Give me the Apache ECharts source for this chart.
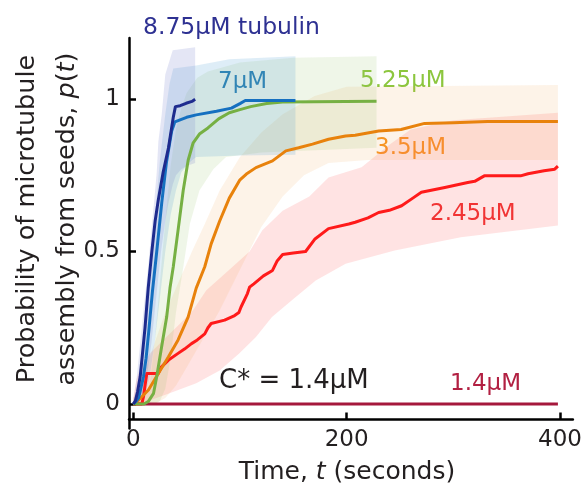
<!DOCTYPE html>
<html>
<head>
<meta charset="utf-8">
<script src="https://cdn.jsdelivr.net/npm/echarts@6/dist/echarts.min.js"></script>
<style>
  html, body { margin: 0; padding: 0; background: #fff; }
  #chart { width: 585px; height: 491px; }
</style>
</head>
<body>
<div id="chart"></div>
<script>
// Probability of microtubule assembly from seeds vs. time, per tubulin concentration.

// Tick values
const xTicks = [0, 200, 400];
const yTicks = [0, 0.5, 1];

// 8.75 µM
const t875 = [0, 2, 4, 6.5, 8.5, 11, 14, 17.4, 20.5, 23.5, 28, 33, 37.5, 39.5, 44, 49.5, 55, 58];
const p875 = [0, 0.01, 0.04, 0.09, 0.16, 0.25, 0.38, 0.5, 0.6, 0.67, 0.76, 0.84, 0.94, 0.975, 0.978, 0.986, 0.992, 0.999];
const band875HiT = [0, 3, 6, 10, 14, 17, 20, 22, 23.5, 26.7, 30, 37, 58];
const band875Hi  = [0.01, 0.08, 0.18, 0.32, 0.45, 0.57, 0.68, 0.76, 0.86, 0.95, 1.08, 1.16, 1.17];
const band875LoT = [0, 3, 6, 10, 14, 17, 20, 23, 26, 30, 33, 37, 40, 45, 50, 58];
const band875Lo  = [0, 0, 0.01, 0.05, 0.12, 0.2, 0.3, 0.4, 0.5, 0.6, 0.66, 0.72, 0.75, 0.77, 0.78, 0.79];

// 7 µM
const t7 = [0, 3, 5, 7, 9.6, 12, 14.3, 18, 22, 26.7, 31, 36, 39, 50, 59, 78, 92, 100, 105, 152];
const p7 = [0, 0.01, 0.02, 0.05, 0.09, 0.15, 0.23, 0.37, 0.5, 0.66, 0.79, 0.895, 0.925, 0.94, 0.948, 0.96, 0.97, 0.985, 0.995, 0.995];
const band7HiT = [0, 5, 10, 15, 20, 25, 30, 34, 37.5, 59, 90, 152];
const band7Hi  = [0.01, 0.06, 0.2, 0.4, 0.6, 0.8, 0.95, 1.05, 1.1, 1.11, 1.13, 1.14];
const band7LoT = [0, 10, 15, 20, 25, 30, 35, 40, 45, 52, 59, 100, 152];
const band7Lo  = [0, 0.02, 0.08, 0.2, 0.35, 0.5, 0.62, 0.7, 0.76, 0.79, 0.81, 0.815, 0.817];

// 5.25 µM
const t525 = [0, 10, 14, 19, 22, 26.7, 31.3, 34.4, 37.5, 42, 46.8, 51.5, 56, 62, 70, 80, 90, 100, 110, 125, 140, 228];
const p525 = [0, 0, 0.008, 0.035, 0.09, 0.19, 0.285, 0.38, 0.45, 0.57, 0.7, 0.8, 0.855, 0.885, 0.905, 0.935, 0.955, 0.965, 0.975, 0.985, 0.99, 0.993];
const band525HiT = [0, 12, 16, 20, 25, 30, 35, 40, 45, 50, 60, 70, 100, 150, 228];
const band525Hi  = [0.01, 0.03, 0.08, 0.2, 0.4, 0.6, 0.78, 0.9, 0.97, 1.02, 1.07, 1.09, 1.12, 1.135, 1.14];
const band525LoT = [0, 20, 25, 30, 35, 40, 46.5, 53, 62, 75, 87, 120, 228];
const band525Lo  = [0, 0, 0.01, 0.05, 0.15, 0.3, 0.44, 0.59, 0.7, 0.77, 0.81, 0.825, 0.84];

// 3.5 µM
const t35 = [0, 5, 14.2, 23.5, 33, 42, 51.4, 59, 67, 73, 81, 90, 100, 106, 115, 130.5, 143, 155, 168, 183, 199, 208, 230, 251, 273, 300, 332, 398];
const p35 = [0, 0.013, 0.046, 0.1, 0.155, 0.21, 0.285, 0.38, 0.45, 0.525, 0.6, 0.675, 0.735, 0.754, 0.775, 0.797, 0.83, 0.84, 0.852, 0.868, 0.879, 0.881, 0.895, 0.9, 0.92, 0.922, 0.926, 0.926];
const band35HiT = [0, 5, 10, 20, 30, 45, 55, 67, 81, 100, 120, 140, 170, 200, 398];
const band35Hi  = [0.02, 0.06, 0.1, 0.2, 0.3, 0.42, 0.5, 0.59, 0.7, 0.81, 0.89, 0.95, 1.01, 1.04, 1.046];
const band35LoT = [0, 20, 30, 40, 50, 60, 70, 80, 100, 120, 140, 160, 183, 220, 398];
const band35Lo  = [0, 0, 0.02, 0.06, 0.12, 0.18, 0.24, 0.3, 0.44, 0.58, 0.68, 0.75, 0.79, 0.8, 0.8];

// 2.45 µM
const t245 = [0, 8, 9.6, 11, 12.7, 23.5, 26, 33, 42, 48, 54.6, 60, 67, 70, 73, 85.6, 95, 99, 101, 107, 109, 113, 122, 130.5, 135, 140, 150, 161.5, 170, 183, 202, 208, 220, 230, 240, 251.5, 262, 270, 292, 313.5, 320, 329, 363, 370, 385, 395, 398];
const p245 = [0, 0, 0.024, 0.06, 0.1, 0.1, 0.12, 0.144, 0.166, 0.18, 0.198, 0.21, 0.23, 0.25, 0.264, 0.275, 0.29, 0.3, 0.318, 0.362, 0.383, 0.394, 0.42, 0.438, 0.47, 0.49, 0.495, 0.5, 0.54, 0.575, 0.59, 0.596, 0.61, 0.628, 0.635, 0.65, 0.675, 0.694, 0.71, 0.726, 0.73, 0.748, 0.748, 0.755, 0.765, 0.77, 0.78];
const band245HiT = [0, 3, 6.5, 15.8, 31, 44, 56, 68.5, 90, 109, 121, 140, 165, 183, 214, 240, 260, 300, 398];
const band245Hi  = [0.02, 0.08, 0.12, 0.166, 0.22, 0.264, 0.307, 0.373, 0.44, 0.5, 0.57, 0.634, 0.68, 0.743, 0.776, 0.85, 0.9, 0.93, 0.955];
const band245LoT = [0, 10, 34, 59, 81, 99.5, 115, 130, 152, 171, 199, 245, 307, 398];
const band245Lo  = [0, 0.005, 0.035, 0.068, 0.11, 0.166, 0.22, 0.285, 0.35, 0.405, 0.46, 0.503, 0.547, 0.585];

// 1.4 µM (critical concentration): no assembly
const t14 = [0, 398];
const p14 = [0, 0];

const FONT = 'DejaVu Sans';
const TEXT = '#231f20';

function pairs(xs, ys) { return xs.map((x, i) => [x, ys[i]]); }

function band(name, hiT, hi, loT, lo, fill) {
  return {
    name: name,
    type: 'custom',
    z: 1,
    silent: true,
    data: [[hiT[0], hi[0]]],
    renderItem: function (params, api) {
      const pts = [];
      for (let i = 0; i < hiT.length; i++) pts.push(api.coord([hiT[i], hi[i]]));
      for (let i = loT.length - 1; i >= 0; i--) pts.push(api.coord([loT[i], lo[i]]));
      return { type: 'polygon', shape: { points: pts }, style: { fill: fill } };
    }
  };
}

function curve(name, xs, ys, color) {
  return {
    name: name,
    type: 'line',
    z: 3,
    data: pairs(xs, ys),
    showSymbol: false,
    silent: true,
    animation: false,
    lineStyle: { color: color, width: 3, join: 'round' }
  };
}

const chart = echarts.init(document.getElementById('chart'), null, { renderer: 'canvas' });

const labelStyle = (text, color, size) => ({
  text: text, fill: color, font: size + 'px "' + FONT + '"',
  align: 'left', verticalAlign: 'middle'
});

chart.setOption({
  animation: false,
  backgroundColor: '#ffffff',
  grid: { left: 129, top: 38, width: 445, height: 390.4, containLabel: false },
  xAxis: {
    type: 'value',
    min: -4, max: 412,
    offset: -9,
    axisLine: { show: true, onZero: false, lineStyle: { color: '#000', width: 2.5 } },
    axisTick: { show: true, inside: true, length: 7, customValues: xTicks, lineStyle: { color: '#000', width: 2.5 } },
    axisLabel: { customValues: xTicks, margin: 9, color: TEXT, fontFamily: FONT, fontSize: 23 },
    splitLine: { show: false }
  },
  yAxis: {
    type: 'value',
    min: -0.08, max: 1.2,
    axisLine: { show: true, onZero: false, lineStyle: { color: '#000', width: 2.5 } },
    axisTick: { show: true, inside: true, length: 7, customValues: yTicks, lineStyle: { color: '#000', width: 2.5 } },
    axisLabel: { customValues: yTicks, margin: 9, color: TEXT, fontFamily: FONT, fontSize: 23 },
    splitLine: { show: false }
  },
  graphic: [
    { type: 'text', x: 143, y: 28, style: labelStyle('8.75μM tubulin', '#2e3192', 23.5) },
    { type: 'text', x: 218, y: 82, style: labelStyle('7μM', '#1b75bc', 23) },
    { type: 'text', x: 360, y: 81, style: labelStyle('5.25μM', '#8cc63e', 23) },
    { type: 'text', x: 375, y: 148, style: labelStyle('3.5μM', '#f7941d', 23) },
    { type: 'text', x: 430, y: 214, style: labelStyle('2.45μM', '#ee2a2a', 23) },
    { type: 'text', x: 450, y: 384, style: labelStyle('1.4μM', '#b22042', 23) },
    { type: 'text', x: 219, y: 381, style: labelStyle('C* = 1.4μM', TEXT, 26) },
    {
      type: 'text', x: 347, y: 472,
      style: {
        text: '{n|Time, }{i|t}{n| (seconds)}',
        align: 'center', verticalAlign: 'middle',
        rich: {
          n: { fontFamily: FONT, fontSize: 25, fill: TEXT, color: TEXT },
          i: { fontFamily: FONT, fontSize: 25, fontStyle: 'italic', fill: TEXT, color: TEXT }
        }
      }
    },
    {
      type: 'text', x: 47, y: 219, rotation: Math.PI / 2,
      style: {
        text: '{n|Probability of microtubule}\n{n|assembly from seeds, }{i|p}{n|(}{i|t}{n|)}',
        align: 'center', verticalAlign: 'middle',
        rich: {
          n: { fontFamily: FONT, fontSize: 25.5, lineHeight: 40, fill: TEXT, color: TEXT },
          i: { fontFamily: FONT, fontSize: 25.5, lineHeight: 40, fontStyle: 'italic', fill: TEXT, color: TEXT }
        }
      }
    }
  ],
  series: [
    band('band 2.45', band245HiT, band245Hi, band245LoT, band245Lo, 'rgba(255,100,100,0.18)'),
    band('band 3.5', band35HiT, band35Hi, band35LoT, band35Lo, 'rgba(240,160,80,0.13)'),
    band('band 5.25', band525HiT, band525Hi, band525LoT, band525Lo, 'rgba(150,195,100,0.15)'),
    band('band 7', band7HiT, band7Hi, band7LoT, band7Lo, 'rgba(70,155,210,0.18)'),
    band('band 8.75', band875HiT, band875Hi, band875LoT, band875Lo, 'rgba(120,130,205,0.2)'),
    curve('1.4μM', t14, p14, '#a5183c'),
    curve('2.45μM', t245, p245, '#ff1a1a'),
    curve('3.5μM', t35, p35, '#e8820c'),
    curve('5.25μM', t525, p525, '#76b043'),
    curve('7μM', t7, p7, '#1570c0'),
    curve('8.75μM', t875, p875, '#1e2b8e')
  ]
});
</script>
</body>
</html>
